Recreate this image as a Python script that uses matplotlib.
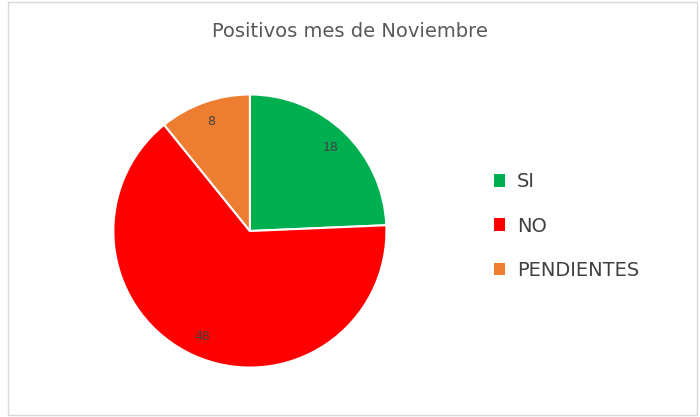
import matplotlib
matplotlib.use("Agg")
import matplotlib.pyplot as plt
from matplotlib.patches import Rectangle, Patch

categories = ["SI", "NO", "PENDIENTES"]
values = [18, 48, 8]
colors = ["#00B050", "#FF0000", "#ED7D31"]
title = "Positivos mes de Noviembre"

fig = plt.figure(figsize=(7, 4.17), dpi=100)
fig.patches.append(Rectangle((0.012, 0.005), 0.983, 0.99, transform=fig.transFigure,
                             fill=False, edgecolor="#D9D9D9", lw=1))
ax = fig.add_axes([0.160, 0.115, 0.394, 0.662])
ax.pie(values, colors=colors, startangle=90, counterclock=False,
       wedgeprops=dict(edgecolor="white", linewidth=1.5),
       autopct=lambda p: f"{round(p*sum(values)/100):d}", pctdistance=0.85,
       textprops=dict(color="#404040", fontsize=9))
ax.set_xlim(-1.01, 1.01)
ax.set_ylim(-1.01, 1.01)
ax.set_aspect("equal")
fig.text(0.5, 0.925, title, ha="center", va="center", fontsize=14, color="#595959")
handles = [Patch(facecolor=c) for c in colors]
fig.legend(handles, categories, loc="center left", bbox_to_anchor=(0.68, 0.458),
           frameon=False, fontsize=14, labelcolor="#404040", handlelength=0.6,
           handleheight=0.6, labelspacing=1.3, handletextpad=0.6)
fig.savefig("out.png", dpi=100)
